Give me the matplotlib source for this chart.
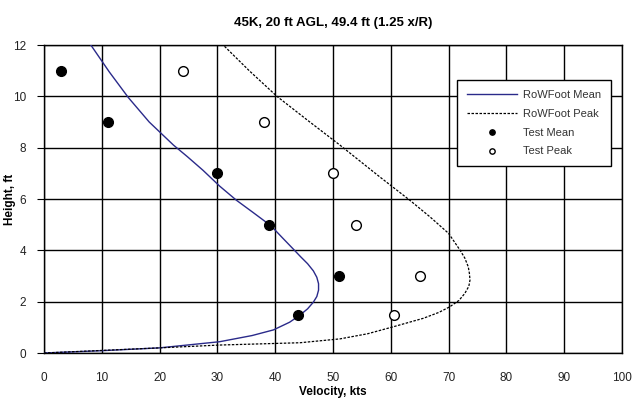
import matplotlib
matplotlib.use('Agg')
import matplotlib.pyplot as plt

plt.rcParams['font.family'] = ['Liberation Sans', 'DejaVu Sans']

# RoWFoot profiles (velocity kts, height ft)
mean_vel = [0, 10, 20, 30.4, 36, 39.7, 42.5, 44.3, 45.6, 46.6, 47.2, 47.5, 47.5, 47.2, 46.6, 45.6, 44.4, 43, 41.2, 39.3,
            36.2, 33.3, 30.4, 27.5, 24.8, 22.4, 18.2, 14.6, 11.3, 8.1]
mean_hgt = [0, 0.09, 0.2, 0.44, 0.68, 0.9, 1.2, 1.48, 1.72, 1.98, 2.2, 2.45, 2.7, 2.95, 3.2, 3.48, 3.75, 4.08, 4.5, 4.95,
            5.47, 5.95, 6.5, 7.12, 7.65, 8.1, 9.0, 9.95, 10.95, 12]

peak_vel = [0, 10, 20, 30.4, 44.3, 51.2, 56, 60.4, 65.6, 68.3, 70.2, 71.8, 72.8, 73.5, 73.7, 73.6, 73.4, 72.8, 72,
            70, 66.8, 63.3, 58.1, 51.2, 45.7, 40.3, 35.5, 31]
peak_hgt = [0, 0.1, 0.2, 0.31, 0.4, 0.55, 0.75, 1.02, 1.35, 1.58, 1.8, 2.05, 2.32, 2.6, 2.84, 3.1, 3.36, 3.7, 4.0,
            4.66, 5.3, 5.95, 6.86, 8.1, 9.05, 10, 11, 12]

# test data
test_mean_vel = [3, 11, 30, 39, 51, 44]
test_mean_hgt = [11, 9, 7, 5, 3, 1.5]
test_peak_vel = [24, 38, 50, 54, 65, 60.5]
test_peak_hgt = [11, 9, 7, 5, 3, 1.5]

fig = plt.figure(figsize=(6.32, 3.98), dpi=100)
ax = fig.add_axes([44/632, 1 - 353/398, 578/632, 308/398])

ax.plot(mean_vel, mean_hgt, color='#2a2a8a', lw=1.0, label='RoWFoot Mean', zorder=3)
ax.plot(peak_vel, peak_hgt, color='black', lw=0.9, ls=(0, (2, 1.2)), label='RoWFoot Peak', zorder=3)
ax.plot(test_mean_vel, test_mean_hgt, 'o', color='black', ms=7, ls='none', label='Test Mean', zorder=4)
ax.plot(test_peak_vel, test_peak_hgt, 'o', mfc='white', mec='black', mew=1.0, ms=7, ls='none', label='Test Peak', zorder=4)

ax.set_xlim(0, 100)
ax.set_ylim(0, 12)
ax.set_xticks(range(0, 101, 10))
ax.set_yticks(range(0, 13, 2))
ax.grid(True, color='black', lw=1.0)
ax.set_axisbelow(True)
for s in ax.spines.values():
    s.set_linewidth(1.0)
ax.tick_params(labelsize=8.5, color='black', labelcolor='#222222')
ax.tick_params(axis='x', length=0, pad=14)
ax.tick_params(axis='y', length=5, pad=8)

ax.set_xlabel('Velocity, kts', fontsize=8.5, fontweight='bold', labelpad=1)
ax.set_ylabel('Height, ft', fontsize=8.5, fontweight='bold')
ax.yaxis.set_label_coords(-0.048, 0.5)
ax.set_title('45K, 20 ft AGL, 49.4 ft (1.25 x/R)', fontsize=9.5, fontweight='bold', pad=14)

leg_handles, leg_labels = ax.get_legend_handles_labels()
leg = ax.legend(leg_handles, leg_labels, loc='upper right', bbox_to_anchor=(0.99, 0.905),
                fontsize=8, frameon=True, fancybox=False, edgecolor='black',
                framealpha=1, handlelength=4.5, markerscale=0.55, labelspacing=0.8,
                borderpad=0.9, handletextpad=0.5)
leg.get_frame().set_linewidth(1.0)
for t in leg.get_texts():
    t.set_color('#333333')

fig.savefig('out.png', dpi=100)
